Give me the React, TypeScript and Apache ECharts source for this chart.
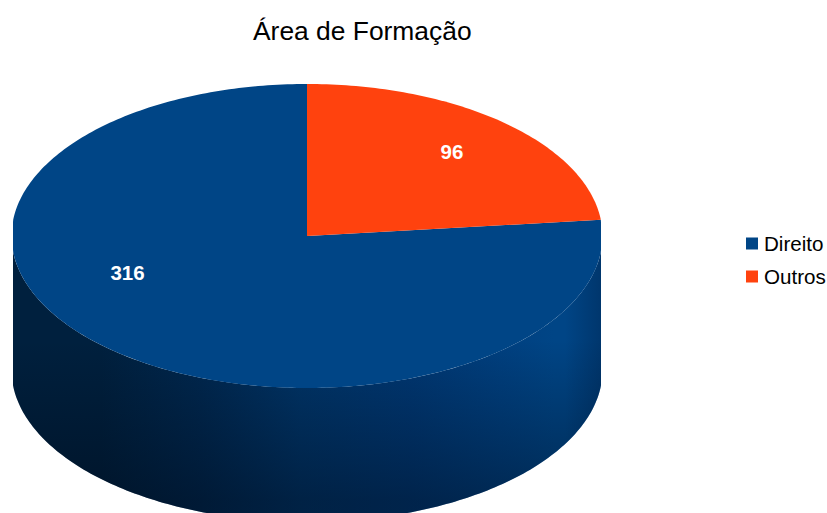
import React, { useEffect, useRef } from "react";
import * as echarts from "echarts";

const categories = ["Direito", "Outros"];
const values = [316, 96];
const colors = ["#004586", "#ff420e"];
const titleText = "Área de Formação";

const CX = 307, CY = 236, RX = 295.5, RY = 152, DEPTH = 134;
const LEFT_EDGE = 13, RIGHT_EDGE = 601;
const FONT = '"Liberation Sans", Arial, sans-serif';
const labelPositions = [[127.5, 272], [452, 151]];
// slices are drawn clockwise from the top; Outros starts at 12 o'clock and Direito follows it
const drawOrder = [1, 0];

const total = values.reduce((a, b) => a + b, 0);
const rangeOf = (idx: number): [number, number] => {
  let start = 0;
  for (const i of drawOrder) {
    const sweep = (values[i] / total) * Math.PI * 2;
    if (i === idx) return [start, start + sweep];
    start += sweep;
  }
  return [0, 0];
};
const pt = (a: number, dy = 0): number[] => [
  Math.min(RIGHT_EDGE, Math.max(LEFT_EDGE, CX + RX * Math.sin(a))),
  CY + dy - RY * Math.cos(a),
];
const arc = (a0: number, a1: number, dy = 0): number[][] => {
  const n = Math.max(2, Math.ceil(Math.abs(a1 - a0) * 60));
  const out: number[][] = [];
  for (let k = 0; k <= n; k++) out.push(pt(a0 + ((a1 - a0) * k) / n, dy));
  return out;
};

const sideFill = new echarts.graphic.LinearGradient(
  13, 0, 601, 0,
  [
    { offset: 0, color: "#00203e" },
    { offset: 0.15, color: "#00203e" },
    { offset: 0.32, color: "#002850" },
    { offset: 0.49, color: "#003569" },
    { offset: 0.68, color: "#003874" },
    { offset: 0.83, color: "#004080" },
    { offset: 0.92, color: "#004586" },
    { offset: 1, color: "#004586" },
  ],
  true,
);
const sideShade = new echarts.graphic.LinearGradient(
  0, 340, 0, 500,
  [
    { offset: 0, color: "rgba(0,5,15,0)" },
    { offset: 1, color: "rgba(0,5,15,0.4)" },
  ],
  true,
);
const sideEdge = new echarts.graphic.LinearGradient(
  565, 0, 601, 0,
  [
    { offset: 0, color: "rgba(0,20,50,0)" },
    { offset: 1, color: "rgba(0,20,50,0.3)" },
  ],
  true,
);

const renderSlice = (idx: number) => () => {
  const [a0, a1] = rangeOf(idx);
  const children: any[] = [];
  const s0 = Math.max(a0, Math.PI / 2);
  const s1 = Math.min(a1, (Math.PI * 3) / 2);
  if (s1 > s0) {
    const points = [...arc(s0, s1), ...arc(s1, s0, DEPTH)];
    children.push({ type: "polygon", shape: { points }, style: { fill: sideFill } });
    children.push({ type: "polygon", shape: { points }, style: { fill: sideShade } });
    children.push({ type: "polygon", shape: { points }, style: { fill: sideEdge } });
  }
  children.push({
    type: "polygon",
    shape: { points: [[CX, CY], ...arc(a0, a1)] },
    style: { fill: colors[idx] },
  });
  children.push({
    type: "text",
    x: labelPositions[idx][0],
    y: labelPositions[idx][1],
    z2: 10,
    style: {
      text: String(values[idx]),
      fill: "#ffffff",
      font: `bold 20.5px ${FONT}`,
      align: "center",
      verticalAlign: "middle",
    },
  });
  return { type: "group", children };
};

export default function App() {
  const ref = useRef<HTMLDivElement>(null);
  useEffect(() => {
    const chart = echarts.init(ref.current!, null, { renderer: "svg" });
    chart.setOption({
      animation: false,
      backgroundColor: "#ffffff",
      title: {
        text: titleText,
        left: 248,
        top: 13,
        textStyle: { fontFamily: FONT, fontSize: 26.4, fontWeight: "normal", color: "#000000" },
      },
      legend: {
        data: categories,
        orient: "vertical",
        left: 746,
        top: 233,
        padding: 0,
        itemWidth: 12,
        itemHeight: 12,
        itemGap: 12,
        icon: "rect",
        textStyle: { fontFamily: FONT, fontSize: 20.6, color: "#000000", padding: [0, 0, 0, 1] },
      },
      series: categories.map((name, i) => ({
        type: "custom",
        name,
        coordinateSystem: "none",
        silent: true,
        itemStyle: { color: colors[i] },
        data: [[values[i]]],
        renderItem: renderSlice(i),
      })),
    });
    return () => chart.dispose();
  }, []);
  return (
    <div
      ref={ref}
      style={{ position: "fixed", left: 0, top: 0, width: 827, height: 513, overflow: "hidden" }}
    />
  );
}
